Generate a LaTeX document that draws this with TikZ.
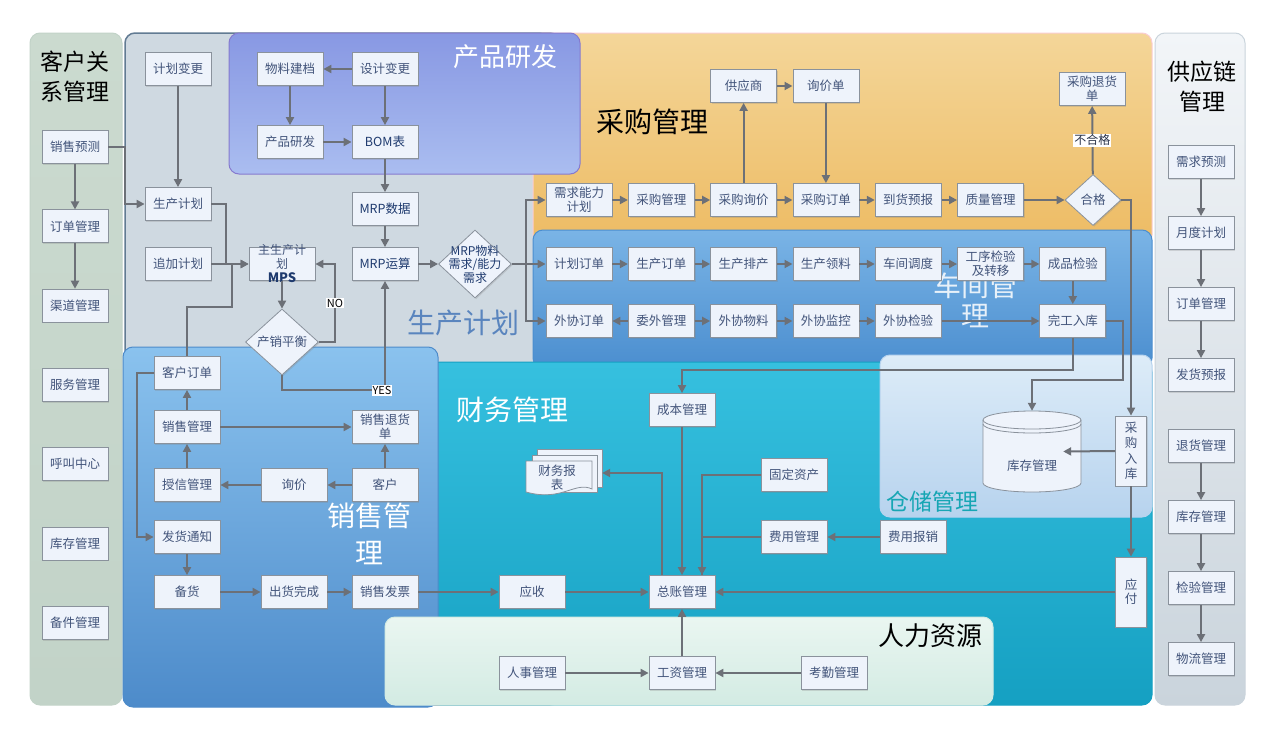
\documentclass[tikz,border=0pt]{standalone}
\usepackage{fontspec}
\setmainfont{Noto Sans CJK SC}
\usetikzlibrary{arrows.meta,shapes.geometric,shadows}

\definecolor{boxfill}{HTML}{EEF3FB}
\definecolor{boxline}{HTML}{8A929C}
\definecolor{boxtext}{HTML}{42547A}
\definecolor{mrptext}{HTML}{1E3A6E}
\definecolor{arrowc}{HTML}{6C7077}
\definecolor{crmtop}{HTML}{CBDACF}
\definecolor{crmbot}{HTML}{C2D3C8}
\definecolor{plangray}{HTML}{CFD9E1}
\definecolor{planline}{HTML}{627B93}
\definecolor{rdtop}{HTML}{8898E3}
\definecolor{rdbot}{HTML}{AABDF0}
\definecolor{cgtop}{HTML}{F4D699}
\definecolor{cgbot}{HTML}{EDBB63}
\definecolor{cjtop}{HTML}{7AB4E6}
\definecolor{cjbot}{HTML}{4B8ECF}
\definecolor{cwtop}{HTML}{36C0DF}
\definecolor{cwbot}{HTML}{15A0C2}
\definecolor{cctop}{HTML}{DDECF8}
\definecolor{ccbot}{HTML}{B7D3EE}
\definecolor{xstop}{HTML}{8AC2EE}
\definecolor{xsbot}{HTML}{4D8BCA}
\definecolor{rltop}{HTML}{EAF6F1}
\definecolor{rlbot}{HTML}{D3EBE3}
\definecolor{gyltop}{HTML}{F2F5F8}
\definecolor{gylbot}{HTML}{CAD4DC}
\definecolor{sctitle}{HTML}{5A85BE}
\definecolor{cctitle}{HTML}{17A6B4}

\tikzset{
  box/.style={draw=boxline, fill=boxfill, line width=0.8pt, minimum width=66pt,
    minimum height=33pt, inner sep=1pt, align=center, text=boxtext,
    font=\fontsize{12.5}{14}\selectfont,
    drop shadow={shadow xshift=1.2pt, shadow yshift=-1.2pt, opacity=0.25}},
  mrpbox/.style={box, text=mrptext},
  vbox/.style={box, minimum width=31pt, minimum height=70pt},
  dia/.style={diamond, draw=boxline, fill=boxfill, line width=0.8pt, inner sep=0pt,
    text=boxtext, font=\fontsize{12.5}{14}\selectfont,
    drop shadow={shadow xshift=1.2pt, shadow yshift=-1.2pt, opacity=0.25}},
  boxlabel/.style={text=boxtext, align=center, inner sep=0pt},
  arr/.style={draw=arrowc, line width=2pt, -{Triangle[length=8pt,width=8pt]}},
  ln/.style={draw=arrowc, line width=2pt},
  lbl/.style={fill=white, inner sep=1pt, text=black, font=\fontsize{11}{12}\selectfont},
  panel/.style={rounded corners=10pt, line width=1pt},
  ttl/.style={font=\fontsize{28}{30}\selectfont, align=center},
}

\begin{document}
\begin{tikzpicture}[x=1pt, y=-1pt, node distance=82.3pt]
\fill[white] (0,0) rectangle (1280,739);
\useasboundingbox (0,0) rectangle (1280,739);

% panels
\draw[panel, top color=crmtop, bottom color=crmbot, draw=crmbot] (30,33) rectangle (122,705);
\draw[panel, fill=plangray, draw=planline, line width=1.5pt] (125,33) rectangle (560,705);
\draw[panel, top color=cgtop, bottom color=cgbot, draw=cgbot!70!magenta!40] (533,33) rectangle (1152,245);
\draw[panel, top color=rdtop, bottom color=rdbot, draw=rdtop!80!violet] (229,33) rectangle (580,174);
\draw[panel, top color=cjtop, bottom color=cjbot, draw=cjbot] (533,230) rectangle (1152,368);
\draw[panel, top color=cwtop, bottom color=cwbot, draw=cwbot] (430,362) rectangle (1152,705);
\draw[panel, top color=cctop, bottom color=ccbot, draw=ccbot] (880,355) rectangle (1152,517);
\draw[panel, top color=xstop, bottom color=xsbot, draw=xsbot] (123,347) rectangle (438,707);
\draw[panel, top color=rltop, bottom color=rlbot, draw=rlbot] (385,617) rectangle (993,705);
\draw[panel, top color=gyltop, bottom color=gylbot, draw=gylbot] (1155,33) rectangle (1245,705);

% panel titles
\node[ttl, font=\fontsize{23}{30}\selectfont] (tcrm) at (75,77) {客户关\\系管理};
\node[ttl, font=\fontsize{26}{28}\selectfont, text=white] (trd) at (505,57) {产品研发};
\node[ttl] (tcg) at (652,122) {采购管理};
\node[ttl, text=sctitle] (tsc) at (463,323) {生产计划};
\node[ttl, text=white, opacity=0.85] (tcj) at (975,300) {车间管\\理};
\node[ttl, text=white] (tcw) at (512,410) {财务管理};
\node[ttl, font=\fontsize{23}{25}\selectfont, text=cctitle] (tcc) at (932,502) {仓储管理};
\node[ttl, font=\fontsize{28}{37}\selectfont, text=white] (txs) at (369,534) {销售管\\理};
\node[ttl, font=\fontsize{26}{28}\selectfont] (trl) at (930,636) {人力资源};
\node[ttl, font=\fontsize{23}{30}\selectfont] (tgyl) at (1202,87) {供应链\\管理};

% 客户关系管理
\begin{scope}[node distance=79.3pt]
\node[box] (xsyc) at (75,147) {销售预测};
\node[box, below of=xsyc] (ddgl) {订单管理};
\node[box, below of=ddgl] (qdgl) {渠道管理};
\node[box, below of=qdgl] (fwgl) {服务管理};
\node[box, below of=fwgl] (hjzx) {呼叫中心};
\node[box, below of=hjzx] (crmkc) {库存管理};
\node[box, below of=crmkc] (bjgl) {备件管理};
\end{scope}

% 供应链管理
\begin{scope}[node distance=71pt]
\node[box] (xqyc) at (1201,162) {需求预测};
\node[box, below of=xqyc] (ydjh) {月度计划};
\node[box, below of=ydjh] (scmdd) {订单管理};
\node[box, below of=scmdd] (fhyb) {发货预报};
\node[box, below of=fhyb] (thgl) {退货管理};
\node[box, below of=thgl] (scmkc) {库存管理};
\node[box, below of=scmkc] (jygl) {检验管理};
\node[box, below of=jygl] (wlgl) {物流管理};
\end{scope}

% 生产计划 / 产品研发
\node[box] (jhbg) at (178,69) {计划变更};
\node[box] (scjh) at (178,204) {生产计划};
\node[box] (zjjh) at (178,264) {追加计划};
\node[box, label={[boxlabel, font=\fontsize{12}{14}\selectfont]center:主生产计\\划\\\textcolor{mrptext}{\fontsize{13}{14}\selectfont\bfseries MPS}}] (mps) at (282,264) {};
\node[dia, minimum width=73pt, minimum height=66pt] (cxph) at (282,342) {产销平衡};
\node[box] (wljd) at (290,69) {物料建档};
\node[box] (sjbg) at (385,69) {设计变更};
\node[box] (cpyf) at (290,142) {产品研发};
\node[mrpbox] (bom) at (385,142) {BOM表};
\node[mrpbox] (mrpsj) at (385,209) {MRP数据};
\node[mrpbox] (mrpys) at (385,264) {MRP运算};
\node[dia, minimum width=73pt, minimum height=68pt, label={[boxlabel, text=mrptext, font=\fontsize{12}{13.5}\selectfont]center:MRP物料\\需求/能力\\需求}] (mrpd) at (475,264) {};

% 采购管理
\node[box] (xqnl) at (579,200) {需求能力\\计划};
\node[box, right of=xqnl] (cggl) {采购管理};
\node[box, right of=cggl] (cgxj) {采购询价};
\node[box, right of=cgxj] (cgdd) {采购订单};
\node[box, right of=cgdd] (dhyb) {到货预报};
\node[box, right of=dhyb] (zlgl) {质量管理};
\node[dia, minimum width=56pt, minimum height=51pt] (hege) at (1093,200) {合格};
\node[box, above of=cgxj, node distance=114pt] (gys) {供应商};
\node[box, above of=cgdd, node distance=114pt] (xjd) {询价单};
\node[box] (cgthd) at (1092,89) {采购退货\\单};

% 车间管理
\node[box] (jhdd) at (579,264) {计划订单};
\node[box, right of=jhdd] (scdd) {生产订单};
\node[box, right of=scdd] (scpc) {生产排产};
\node[box, right of=scpc] (scll) {生产领料};
\node[box, right of=scll] (cjdd) {车间调度};
\node[box, right of=cjdd] (gxjy) {工序检验\\及转移};
\node[box, right of=gxjy] (cpjy) {成品检验};
\begin{scope}[node distance=57pt]
\node[box, below of=jhdd] (xwdd) {外协订单};
\node[box, below of=scdd] (wwgl) {委外管理};
\node[box, below of=scpc] (xwwl) {外协物料};
\node[box, below of=scll] (xwjk) {外协监控};
\node[box, below of=cjdd] (xwjy) {外协检验};
\node[box, below of=cpjy] (wgrk) {完工入库};
\end{scope}

% 仓储管理
\filldraw[fill=boxfill, draw=boxline, line width=0.8pt] (983,420) -- (983,483)
  arc[start angle=180, end angle=360, x radius=49pt, y radius=9pt] -- (1081,420)
  arc[start angle=0, end angle=180, x radius=49pt, y radius=9pt] -- cycle;
\draw[boxline, line width=0.8pt] (983,420) arc[start angle=180, end angle=360, x radius=49pt, y radius=9pt];
\draw[boxline, line width=0.8pt] (983,424) arc[start angle=180, end angle=360, x radius=49pt, y radius=9pt];
\node[minimum width=98pt, minimum height=81pt, inner sep=0pt, label={[boxlabel, font=\fontsize{12.5}{14}\selectfont, yshift=-14pt]center:库存管理}] (kcgl) at (1032,451.5) {};
\node[vbox, font=\fontsize{12.5}{15.5}\selectfont] (cgrk) at (1131,451) {采\\购\\入\\库};
\node[vbox] (yf) at (1131,592) {应\\付};

% 财务管理
\node[box] (cbgl) at (682,410) {成本管理};
\node[box] (zzgl) at (682,592) {总账管理};
\node[box] (ys) at (532,592) {应收};
\node[box] (gdzc) at (794,475) {固定资产};
\node[box] (fygl) at (794,537) {费用管理};
\node[box] (fybx) at (913,537) {费用报销};
\filldraw[fill=boxfill, draw=boxline, line width=0.8pt] (537,449) rectangle (602,487);
\filldraw[fill=boxfill, draw=boxline, line width=0.8pt] (532,455) rectangle (597,492);
\filldraw[fill=boxfill, draw=boxline, line width=0.8pt] (526,461) -- (592,461) -- (592,489)
  .. controls (575,481) and (562,502) .. (526,492) -- cycle;
\node[minimum width=76pt, minimum height=48pt, inner sep=0pt, label={[boxlabel, font=\fontsize{12.5}{14}\selectfont, xshift=-7pt, yshift=-5pt]center:财务报\\表}] (cwbb) at (564,473) {};

% 人力资源
\node[box] (rsgl) at (532,673) {人事管理};
\node[box] (gzgl) at (682,673) {工资管理};
\node[box] (kqgl) at (834,673) {考勤管理};

% 销售管理
\node[box] (khdd) at (187,373) {客户订单};
\node[box] (xsgl) at (187,427) {销售管理};
\node[box] (sxgl) at (187,485) {授信管理};
\node[box] (fhtz) at (187,537) {发货通知};
\node[box] (bh) at (187,592) {备货};
\node[box] (xj) at (294,485) {询价};
\node[box] (kh) at (385,485) {客户};
\node[box] (xsthd) at (385,427) {销售退货\\单};
\node[box] (chwc) at (294,592) {出货完成};
\node[box] (xsfp) at (385,592) {销售发票};

% connectors
\draw[arr] (xsyc) -- (ddgl);
\draw[arr] (ddgl) -- (qdgl);
\draw[arr] (xsyc.east) -- ++(17,0) |- (scjh.west);

\draw[arr] (sjbg) -- (wljd);
\draw[arr] (wljd) -- (cpyf);
\draw[arr] (sjbg) -- (bom);
\draw[arr] (cpyf) -- (bom);
\draw[arr] (bom) -- (mrpsj);
\draw[arr] (mrpsj) -- (mrpys);
\draw[arr] (mrpys) -- (mrpd);

\draw[arr] (jhbg) -- (scjh);
\draw[arr] (scjh.east) -- ++(15,0) |- (mps.west);
\draw[arr] (zjjh) -- (mps);
\draw[ln] (khdd.north) -- ++(0,-49) -| ([xshift=-17pt]mps.west);
\draw[arr] (mps) -- (cxph);
\draw[arr] (cxph.east) -- ++(16,0) |- (mps.east) node[lbl, pos=0.25] (lno) {NO};
\draw[arr] (cxph.south) -- ++(0,15) -| (mrpys.south) node[lbl, pos=0.5, xshift=-3pt] (lyes) {YES};

\coordinate (fork) at ([xshift=14pt]mrpd.east);
\draw[arr] (mrpd.east) -- (jhdd.west);
\draw[arr] (fork) |- (xqnl.west);
\draw[arr] (fork) |- (xwdd.west);

\draw[arr] (xqnl) -- (cggl);
\draw[arr] (cggl) -- (cgxj);
\draw[arr] (cgxj) -- (cgdd);
\draw[arr] (cgdd) -- (dhyb);
\draw[arr] (dhyb) -- (zlgl);
\draw[arr] (zlgl) -- (hege);
\draw[arr] (cgxj) -- (gys);
\draw[arr] (gys) -- (xjd);
\draw[arr] (xjd) -- (cgdd);
\draw[arr] (hege) -- (cgthd) node[lbl, midway, text=boxtext!60!black, font=\fontsize{12}{13}\selectfont] (lbhg) {不合格};
\draw[arr] (hege.east) -| (cgrk.north);

\draw[arr] (jhdd) -- (scdd);
\draw[arr] (scdd) -- (scpc);
\draw[arr] (scpc) -- (scll);
\draw[arr] (scll) -- (cjdd);
\draw[arr] (cjdd) -- (gxjy);
\draw[arr] (gxjy) -- (cpjy);
\draw[arr] (wwgl) -- (xwdd);
\draw[arr] (wwgl) -- (xwwl);
\draw[arr] (xwwl) -- (xwjk);
\draw[arr] (xwjk) -- (xwjy);
\draw[arr] (xwjy) -- (wgrk);
\draw[arr] (cpjy) -- (wgrk);
\draw[arr] (wgrk.south) -- ++(0,32) -| (cbgl.north);
\draw[arr] (wgrk.east) -- ++(17,0) -- ++(0,59) -| (kcgl.north);

\draw[arr] (cgrk.west) -- ([xshift=-18pt]kcgl.east);
\draw[arr] (cgrk) -- (yf);
\draw[arr] (yf.west) -- (zzgl.east);

\draw[arr] (cbgl) -- (zzgl);
\draw[ln] (fygl.west) -| ([xshift=20pt]zzgl.north);
\draw[arr] (gdzc.west) -| ([xshift=20pt]zzgl.north);
\draw[arr] (fybx) -- (fygl);
\draw[arr] ([xshift=-20pt]zzgl.north) |- (cwbb.east);

\draw[arr] (xsgl) -- (khdd);
\draw[arr] (sxgl) -- (xsgl);
\draw[arr] (xj) -- (sxgl);
\draw[arr] (kh) -- (xj);
\draw[arr] (kh) -- (xsthd);
\draw[arr] (xsgl) -- (xsthd);
\draw[arr] (khdd.west) -- ++(-17,0) |- (fhtz.west);
\draw[arr] (fhtz) -- (bh);
\draw[arr] (bh) -- (chwc);
\draw[arr] (chwc) -- (xsfp);
\draw[arr] (xsfp) -- (ys);
\draw[arr] (ys) -- (zzgl);

\draw[arr] (rsgl) -- (gzgl);
\draw[arr] (kqgl) -- (gzgl);
\draw[arr] (gzgl) -- (zzgl);

\draw[arr] (xqyc) -- (ydjh);
\draw[arr] (ydjh) -- (scmdd);
\draw[arr] (scmdd) -- (fhyb);
\draw[arr] (thgl) -- (scmkc);
\draw[arr] (scmkc) -- (jygl);
\draw[arr] (jygl) -- (wlgl);
\end{tikzpicture}
\end{document}
